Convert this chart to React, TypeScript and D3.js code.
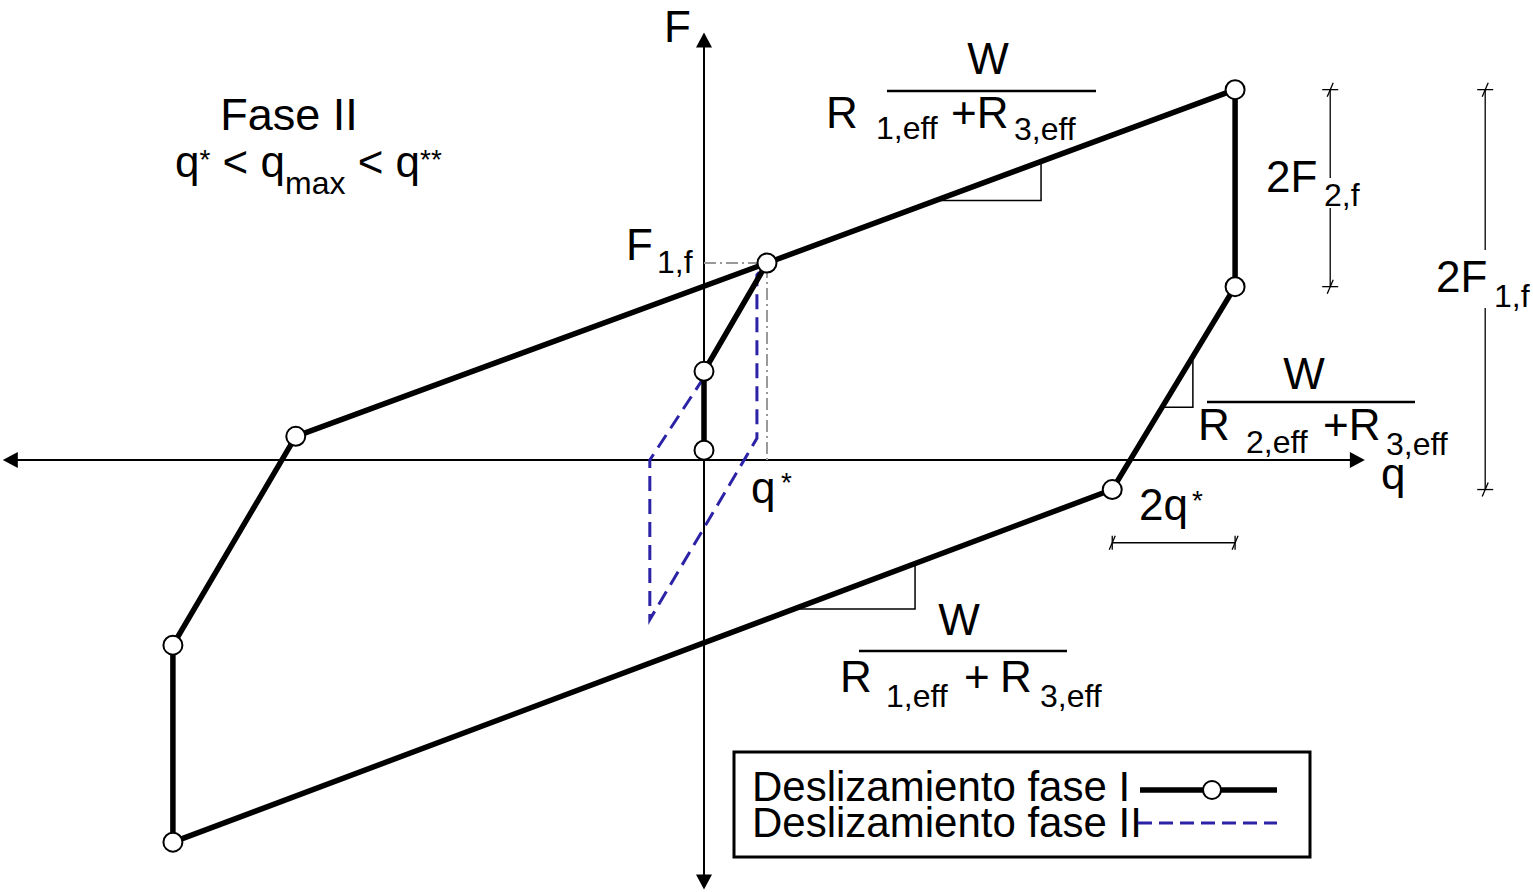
import React, { useEffect, useRef } from "react";
import * as d3 from "d3";

// q in units of q*, F in units of F1,f
const loopQ = [0, 0, 1, 8.43, 8.43, 6.48, -8.43, -8.43, -6.48, 1];
const loopF = [0.05, 0.45, 1, 1.88, 0.88, -0.15, -1.94, -0.94, 0.12, 1];
const phase2Q = [0, -0.86, -0.86, 0.84, 0.84, 1];
const phase2F = [0.42, 0, -0.81, 0.11, 0.94, 1];

const qAxisRange = [-11.13, 10.49];
const fAxisRange = [2.17, -2.18];

// dimension lines: [position, from, to]
const dimF2 = [9.94, 1.88, 0.88];
const dimF1 = [12.4, 1.88, -0.15];
const dimQ2 = [-0.42, 6.48, 8.43];

// slope triangles: segment start idx, segment end idx, qa, qb
const slopeTop = [2, 3, 3.68, 5.35];
const slopeRight = [5, 4, 7.27, 7.76];
const slopeBottom = [6, 5, 1.43, 3.35];

const legendLabels = ["Deslizamiento fase I", "Deslizamiento fase II"];

const FONT = "'Liberation Sans', Arial, Helvetica, sans-serif";
const BLUE = "#2b22a6";

export default function App() {
  const ref = useRef<SVGSVGElement>(null);

  useEffect(() => {
    const svg = d3.select(ref.current);
    svg.selectAll("*").remove();

    const x = d3.scaleLinear().domain([0, 1]).range([704, 767]);
    const y = d3.scaleLinear().domain([0, 1]).range([460, 263]);

    const line = d3.line<number[]>().x(d => x(d[0])).y(d => y(d[1]));

    // axes
    const ax = svg.append("g").attr("stroke", "#000").attr("stroke-width", 2);
    ax.append("line")
      .attr("x1", x(qAxisRange[0]) + 10).attr("x2", x(qAxisRange[1]) - 10)
      .attr("y1", y(0)).attr("y2", y(0));
    ax.append("line")
      .attr("x1", x(0)).attr("x2", x(0))
      .attr("y1", y(fAxisRange[0]) + 10).attr("y2", y(fAxisRange[1]) - 10);
    const arrow = (tx: number, ty: number, dx: number, dy: number) => {
      // tip at tx,ty pointing in direction dx,dy
      const L = 15, W = 8;
      const bx = tx - dx * L, by = ty - dy * L;
      svg.append("path")
        .attr("d", `M${tx},${ty}L${bx - dy * W},${by + dx * W}L${bx + dy * W},${by - dx * W}Z`)
        .attr("fill", "#000");
    };
    arrow(x(qAxisRange[0]), y(0), -1, 0);
    arrow(x(qAxisRange[1]), y(0), 1, 0);
    arrow(x(0), y(fAxisRange[0]), 0, -1);
    arrow(x(0), y(fAxisRange[1]), 0, 1);

    // grey dash-dot guides for q*, F1,f
    svg.append("path")
      .attr("d", line([[0, 1], [1, 1], [1, 0]]))
      .attr("fill", "none")
      .attr("stroke", "#999")
      .attr("stroke-width", 2)
      .attr("stroke-dasharray", "12,4,2,4");

    // phase II dashed
    const p2 = phase2Q.map((q, i) => [q, phase2F[i]]);
    svg.append("path")
      .attr("d", line(p2))
      .attr("fill", "none")
      .attr("stroke", BLUE)
      .attr("stroke-width", 3)
      .attr("stroke-dasharray", "15,8");

    // slope triangles
    const pts = loopQ.map((q, i) => [q, loopF[i]]);
    const tri = (s: number[]) => {
      const a = pts[s[0]], b = pts[s[1]];
      const f = (q: number) => a[1] + (q - a[0]) * (b[1] - a[1]) / (b[0] - a[0]);
      svg.append("path")
        .attr("d", line([[s[2], f(s[2])], [s[3], f(s[2])], [s[3], f(s[3])]]))
        .attr("fill", "none")
        .attr("stroke", "#000")
        .attr("stroke-width", 1.5);
    };
    tri(slopeTop);
    tri(slopeRight);
    tri(slopeBottom);

    // phase I loop
    svg.append("path")
      .attr("d", line(pts))
      .attr("fill", "none")
      .attr("stroke", "#000")
      .attr("stroke-width", 5.5)
      .attr("stroke-linejoin", "round");
    svg.selectAll(".pt")
      .data(pts.slice(0, 9))
      .enter()
      .append("circle")
      .attr("class", "pt")
      .attr("cx", d => x(d[0]))
      .attr("cy", d => y(d[1]))
      .attr("r", 9.5)
      .attr("fill", "#fff")
      .attr("stroke", "#000")
      .attr("stroke-width", 2);

    // dimension lines
    const tick = (cx: number, cy: number, vertical: boolean) => {
      const g = svg.append("g").attr("stroke", "#000").attr("stroke-width", 1.3);
      if (vertical) {
        g.append("line").attr("x1", cx).attr("x2", cx).attr("y1", cy - 7).attr("y2", cy + 7);
      } else {
        g.append("line").attr("x1", cx - 8).attr("x2", cx + 8).attr("y1", cy).attr("y2", cy);
      }
      g.append("line").attr("x1", cx - 3).attr("x2", cx + 3).attr("y1", cy + 7).attr("y2", cy - 7);
    };
    const dimV = (d: number[], gapTop: number, gapBot: number) => {
      const cx = x(d[0]), y1 = y(d[1]), y2 = y(d[2]);
      const g = svg.append("g").attr("stroke", "#000").attr("stroke-width", 1.3);
      g.append("line").attr("x1", cx).attr("x2", cx).attr("y1", y1).attr("y2", gapTop);
      g.append("line").attr("x1", cx).attr("x2", cx).attr("y1", gapBot).attr("y2", y2);
      tick(cx, y1, false);
      tick(cx, y2, false);
    };
    dimV(dimF2, 178, 208);
    dimV(dimF1, 250, 308);
    svg.append("line")
      .attr("x1", x(dimQ2[1])).attr("x2", x(dimQ2[2]))
      .attr("y1", y(dimQ2[0])).attr("y2", y(dimQ2[0]))
      .attr("stroke", "#000").attr("stroke-width", 1.3);
    tick(x(dimQ2[1]), y(dimQ2[0]), true);
    tick(x(dimQ2[2]), y(dimQ2[0]), true);

    // text helper
    const txt = (s: string, tx: number, ty: number, size = 44, anchor = "start") =>
      svg.append("text")
        .attr("x", tx).attr("y", ty)
        .attr("font-family", FONT)
        .attr("font-size", size)
        .attr("text-anchor", anchor)
        .attr("fill", "#000")
        .text(s);

    txt("F", 664, 42);
    txt("q", 1381, 489);
    txt("Fase II", 289, 130, 45, "middle");

    // q* < qmax < q**
    const t = svg.append("text")
      .attr("x", 175).attr("y", 177)
      .attr("font-family", FONT).attr("font-size", 44);
    t.append("tspan").text("q");
    t.append("tspan").attr("font-size", 28).attr("dy", -8).text("*");
    t.append("tspan").attr("dy", 8).text(" < q");
    t.append("tspan").attr("font-size", 32).attr("dy", 17).text("max");
    t.append("tspan").attr("dy", -17).text(" < q");
    t.append("tspan").attr("font-size", 28).attr("dy", -8).text("**");

    txt("F", 626, 260);
    txt("1,f", 657, 273, 32);
    txt("q", 751, 503);
    txt("*", 781, 492, 28);

    // fractions
    const frac = (cx: number, yW: number, x1: number, x2: number, yBar: number) => {
      txt("W", cx, yW, 44, "middle");
      svg.append("line")
        .attr("x1", x1).attr("x2", x2).attr("y1", yBar).attr("y2", yBar)
        .attr("stroke", "#000").attr("stroke-width", 2.5);
    };
    frac(988, 74, 887, 1096, 91);
    txt("R", 826, 128);
    txt("1,eff", 876, 139, 32);
    txt("+R", 951, 128);
    txt("3,eff", 1014, 140, 32);

    frac(1304, 389, 1207, 1415, 402);
    txt("R", 1198, 440);
    txt("2,eff", 1246, 453, 32);
    txt("+R", 1323, 440);
    txt("3,eff", 1386, 455, 32);

    frac(959, 635, 859, 1067, 651);
    txt("R", 840, 692);
    txt("1,eff", 886, 707, 32);
    txt("+", 964, 692);
    txt("R", 1000, 692);
    txt("3,eff", 1040, 707, 32);

    txt("2F", 1266, 192);
    txt("2,f", 1324, 206, 32);
    txt("2F", 1436, 292);
    txt("1,f", 1494, 307, 32);
    txt("2q", 1139, 520);
    txt("*", 1192, 510, 28);

    // legend
    svg.append("rect")
      .attr("x", 734).attr("y", 752).attr("width", 576).attr("height", 105)
      .attr("fill", "#fff").attr("stroke", "#000").attr("stroke-width", 3);
    txt(legendLabels[0], 752, 801, 42);
    txt(legendLabels[1], 752, 837, 42);
    svg.append("line")
      .attr("x1", 1140).attr("x2", 1277).attr("y1", 790).attr("y2", 790)
      .attr("stroke", "#000").attr("stroke-width", 5.5);
    svg.append("circle")
      .attr("cx", 1212).attr("cy", 790).attr("r", 9)
      .attr("fill", "#fff").attr("stroke", "#000").attr("stroke-width", 2);
    svg.append("line")
      .attr("x1", 1138).attr("x2", 1277).attr("y1", 823).attr("y2", 823)
      .attr("stroke", BLUE).attr("stroke-width", 3)
      .attr("stroke-dasharray", "14,7");
  }, []);

  return (
    <svg
      ref={ref}
      width={1533}
      height={892}
      style={{ position: "absolute", left: 0, top: 0, background: "#fff" }}
    />
  );
}
